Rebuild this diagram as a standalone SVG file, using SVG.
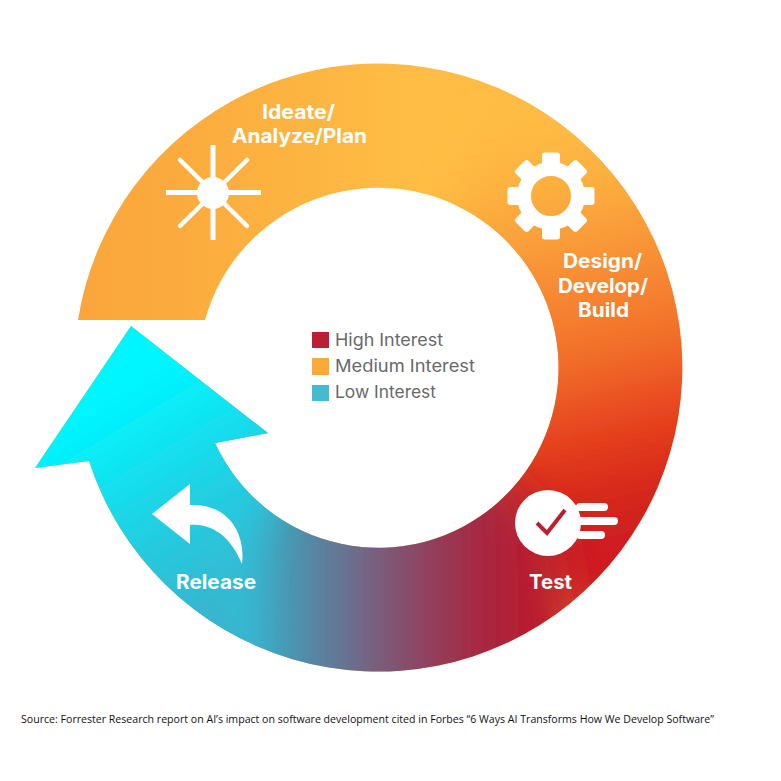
<svg xmlns="http://www.w3.org/2000/svg" xmlns:xlink="http://www.w3.org/1999/xlink" width="781" height="781" viewBox="0 0 781 781">
<style>
.lbl{font-family:"Inter","Open Sans",sans-serif;font-weight:700;font-size:19.5px;fill:#fff}
.leg{font-family:"Inter","Open Sans",sans-serif;font-weight:400;font-size:17px;fill:#68686a}
.src{font-family:"Open Sans","Noto Sans",sans-serif;font-size:11.4px;fill:#111}
.w{fill:#fff}
.sp{stroke:#fff;stroke-width:5;fill:none}
.spr{stroke:#fff;stroke-width:4.5;stroke-linecap:round;fill:none}
.spd{stroke:#fff;stroke-width:8;stroke-linecap:round;fill:none}
</style>
<defs>
<clipPath id="ringClip"><path d="M78 320A304 304 0 1 1 89 461L35 468L131 326L268 433L215 443A180 180 0 1 0 205 320Z"/></clipPath>
<clipPath id="lowClip"><rect x="0" y="322" width="781" height="459"/></clipPath>
<filter id="soft" filterUnits="userSpaceOnUse" x="-100" y="-100" width="981" height="981"><feGaussianBlur stdDeviation="20"/></filter>
<linearGradient id="gA" gradientUnits="userSpaceOnUse" x1="78" y1="0" x2="560" y2="0">
<stop offset="0" stop-color="#FAA53B"/><stop offset="0.35" stop-color="#FCB03F"/><stop offset="0.7" stop-color="#FFBD45"/><stop offset="1" stop-color="#FEBB44"/></linearGradient>
<linearGradient id="gB" gradientUnits="userSpaceOnUse" x1="500" y1="140" x2="590" y2="540">
<stop offset="0" stop-color="#FEBB44"/><stop offset="0.17" stop-color="#FCAD3D"/><stop offset="0.33" stop-color="#F89336"/><stop offset="0.55" stop-color="#F2702A"/><stop offset="0.75" stop-color="#E6411F"/><stop offset="0.85" stop-color="#DC2F1D"/><stop offset="1" stop-color="#CF1E20"/></linearGradient>
<linearGradient id="gC" gradientUnits="userSpaceOnUse" x1="600" y1="0" x2="220" y2="0">
<stop offset="0" stop-color="#CC1E20"/><stop offset="0.184" stop-color="#B81B2E"/><stop offset="0.342" stop-color="#A32A45"/><stop offset="0.526" stop-color="#844F6E"/><stop offset="0.658" stop-color="#6A6E8E"/><stop offset="0.789" stop-color="#4C8FAB"/><stop offset="0.92" stop-color="#38B3CE"/><stop offset="1" stop-color="#25CCE0"/></linearGradient>
<linearGradient id="gD" gradientUnits="userSpaceOnUse" x1="240" y1="600" x2="120" y2="400">
<stop offset="0" stop-color="#38B3CE"/><stop offset="0.45" stop-color="#22CEE2"/><stop offset="1" stop-color="#00F6FF"/></linearGradient>
<rect id="tooth" x="542" y="152.500" width="18" height="20" rx="3"/>
</defs>
<rect width="781" height="781" fill="#fff"/>
<g id="connectors">
<g id="cycle-arrow" clip-path="url(#ringClip)">
<rect width="781" height="781" fill="url(#gA)"/>
<polygon points="380,366 530,60 820,60 820,640 590,640" fill="url(#gB)" filter="url(#soft)"/>
<polygon points="480,460 560,525 600,740 190,740 190,420" fill="url(#gC)" filter="url(#soft)"/>
<g clip-path="url(#lowClip)"><polygon points="320,260 320,450 245,540 235,760 -60,760 -60,260" fill="url(#gD)" filter="url(#soft)"/></g>
</g>
</g>
<g id="node-ideate">
<line class="sp" x1="213" y1="145" x2="213" y2="240"/>
<line class="sp" x1="166" y1="192.500" x2="261" y2="192.500"/>
<line class="spr" x1="180" y1="160" x2="247" y2="226"/>
<line class="spr" x1="247" y1="160" x2="180" y2="226"/>
<circle class="w" cx="213" cy="193" r="16"/>
<text class="lbl" x="262" y="119" textLength="73" lengthAdjust="spacingAndGlyphs">Ideate/</text>
<text class="lbl" x="232" y="143" textLength="135" lengthAdjust="spacingAndGlyphs">Analyze/Plan</text>
</g>
<g id="node-design">
<circle cx="551" cy="196" r="27" fill="none" stroke="#fff" stroke-width="14"/>
<use class="w" href="#tooth"/>
<use class="w" href="#tooth" transform="rotate(45 551 196)"/>
<use class="w" href="#tooth" transform="rotate(90 551 196)"/>
<use class="w" href="#tooth" transform="rotate(135 551 196)"/>
<use class="w" href="#tooth" transform="rotate(180 551 196)"/>
<use class="w" href="#tooth" transform="rotate(225 551 196)"/>
<use class="w" href="#tooth" transform="rotate(270 551 196)"/>
<use class="w" href="#tooth" transform="rotate(315 551 196)"/>
<text class="lbl" x="563" y="268" textLength="79" lengthAdjust="spacingAndGlyphs">Design/</text>
<text class="lbl" x="558" y="293" textLength="90" lengthAdjust="spacingAndGlyphs">Develop/</text>
<text class="lbl" x="578" y="317" textLength="51" lengthAdjust="spacingAndGlyphs">Build</text>
</g>
<g id="node-test">
<line class="spd" x1="580" y1="507" x2="604" y2="507"/>
<line class="spd" x1="580" y1="521" x2="614" y2="521"/>
<line class="spd" x1="580" y1="535" x2="601" y2="535"/>
<circle class="w" cx="548" cy="523" r="33"/>
<polyline points="537,523 547,533 565,510" fill="none" stroke="#BE1F30" stroke-width="4"/>
<text class="lbl" x="529" y="589" textLength="43" lengthAdjust="spacingAndGlyphs">Test</text>
</g>
<g id="node-release">
<path class="w" d="M152 514L190 484V505C225 503 246 530 242 564C232 540 215 523 190 525V544Z"/>
<text class="lbl" x="176" y="589" textLength="80" lengthAdjust="spacingAndGlyphs">Release</text>
</g>
<g id="legend">
<rect x="312" y="332" width="17" height="16" fill="#BE1E33"/>
<rect x="312" y="358" width="17" height="17" fill="#FBAA3A"/>
<rect x="312" y="385" width="17" height="16" fill="#45BAD3"/>
<text class="leg" x="335" y="346" textLength="108" lengthAdjust="spacingAndGlyphs">High Interest</text>
<text class="leg" x="335" y="372" textLength="140" lengthAdjust="spacingAndGlyphs">Medium Interest</text>
<text class="leg" x="335" y="398" textLength="101" lengthAdjust="spacingAndGlyphs">Low Interest</text>
</g>
<text class="src" x="21" y="722.500" textLength="693" lengthAdjust="spacingAndGlyphs">Source: Forrester Research report on AI’s impact on software development cited in Forbes “6 Ways AI Transforms How We Develop Software”</text>
</svg>
